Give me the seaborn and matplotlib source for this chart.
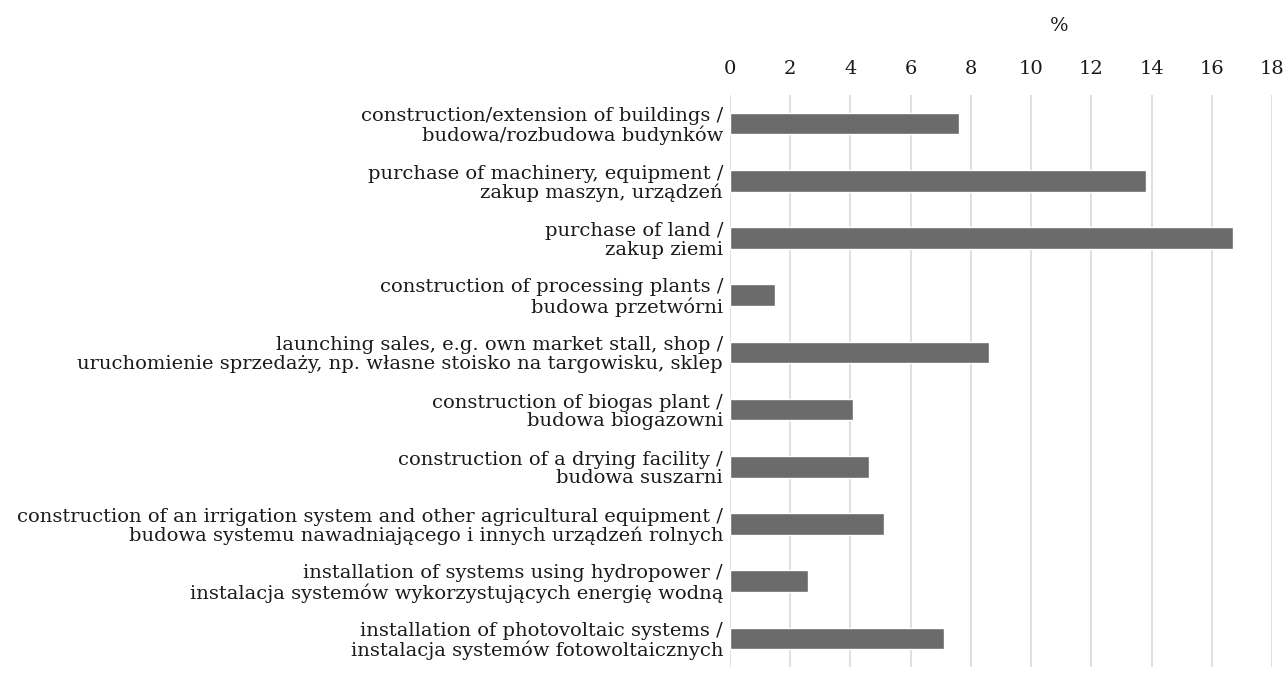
import matplotlib
matplotlib.use("Agg")
import matplotlib.pyplot as plt
import seaborn as sns
import pandas as pd

categories = [
    "construction/extension of buildings /\nbudowa/rozbudowa budynków",
    "purchase of machinery, equipment /\nzakup maszyn, urządzeń",
    "purchase of land /\nzakup ziemi",
    "construction of processing plants /\nbudowa przetwórni",
    "launching sales, e.g. own market stall, shop /\nuruchomienie sprzedaży, np. własne stoisko na targowisku, sklep",
    "construction of biogas plant /\nbudowa biogazowni",
    "construction of a drying facility /\nbudowa suszarni",
    "construction of an irrigation system and other agricultural equipment /\nbudowa systemu nawadniającego i innych urządzeń rolnych",
    "installation of systems using hydropower /\ninstalacja systemów wykorzystujących energię wodną",
    "installation of photovoltaic systems /\ninstalacja systemów fotowoltaicznych",
]
values = [7.6, 13.8, 16.7, 1.5, 8.6, 4.1, 4.6, 5.1, 2.6, 7.1]
xticks = [0, 2, 4, 6, 8, 10, 12, 14, 16, 18]
axis_label = "%"

df = pd.DataFrame({"category": categories, "value": values})

sns.set_theme(style="white")
plt.rcParams['font.family'] = ['DejaVu Serif']

fig = plt.figure(figsize=(12.88, 6.79), dpi=100)
ax = fig.add_axes([730/1288, 1 - 667/679, (1272-730)/1288, (667-95)/679])

sns.barplot(data=df, x="value", y="category", color="#6b6b6b", saturation=1,
            width=0.38, ax=ax, orient="h")

ax.set_xlim(0, 18)
ax.set_xticks(xticks)
ax.xaxis.tick_top()
ax.xaxis.set_label_position("top")
ax.set_xlabel(axis_label, fontsize=14, labelpad=21, color="#1a1a1a")
ax.xaxis.label.set_x((1059 - 730) / (1272 - 730))
ax.set_ylabel("")
ax.tick_params(axis="x", labelsize=14, length=0, pad=12, colors="#1a1a1a")
ax.tick_params(axis="y", labelsize=14, length=0, pad=5, colors="#1a1a1a")
for lab in ax.get_yticklabels():
    lab.set_horizontalalignment("right")
    lab.set_multialignment("right")
    lab.set_linespacing(1.05)
ax.grid(axis="x", color="#d9d9d9", linewidth=1.2)
ax.set_axisbelow(True)
for s in ax.spines.values():
    s.set_visible(False)

fig.savefig("out.png", dpi=100)
